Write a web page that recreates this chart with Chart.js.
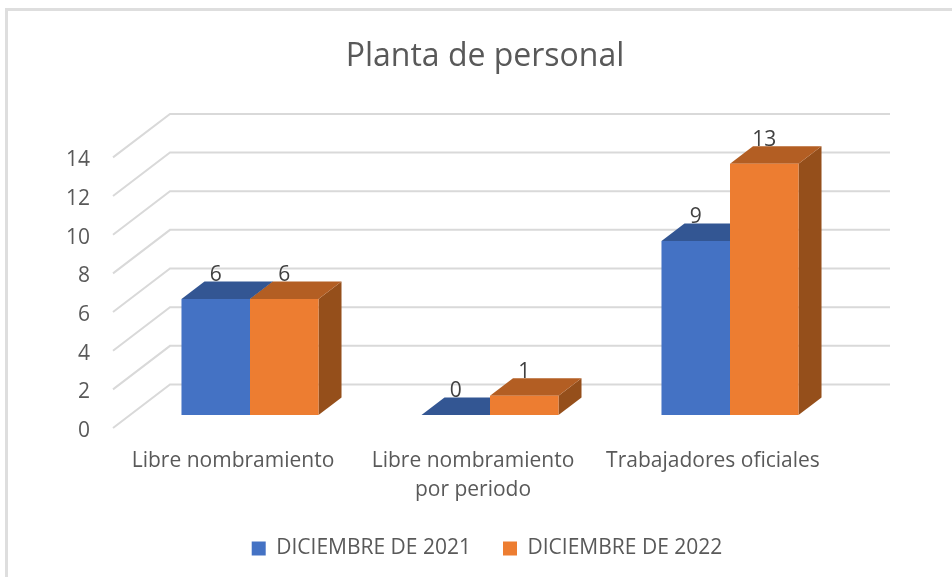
<!DOCTYPE html>
<html>
<head>
<meta charset="utf-8">
<title>Planta de personal</title>
<script src="https://cdn.jsdelivr.net/npm/chart.js@4"></script>
<style>
  html, body { margin: 0; height: 100%; overflow: hidden; background: #fff; }
  #box { position: absolute; left: 5px; top: 8px; width: 1000px; height: 600px; border-left: 3px solid #dedede; border-top: 3px solid #dedede; }
  #plot { position: absolute; left: 0; top: 0; }
</style>
</head>
<body>
<div id="box"></div>
<canvas id="plot" width="970" height="590"></canvas>
<script>
// Chart data
const categories = [["Libre nombramiento"], ["Libre nombramiento", "por periodo"], ["Trabajadores oficiales"]];
const seriesNames = ["DICIEMBRE DE 2021", "DICIEMBRE DE 2022"];
const values2021 = [6, 0, 9];
const values2022 = [6, 1, 13];

// Colours of the three faces of each bar
const frontColors = ["#4472C4", "#ED7D31"];
const topColors = ["#335693", "#B35E23"];
const sideColors = ["#2A4675", "#954F1B"];

const textColor = "#595959";
const gridColor = "#d9d9d9";
const fontName = "'Open Sans', sans-serif";

// Fake 3D depth: back wall offset, bar offset from the front plane, bar depth
const wall = { dx: 57, dy: -43.5 };
const barShift = { dx: 17, dy: -13 };
const barDepth = { dx: 23, dy: -17.5 };

const fake3d = {
  id: "fake3d",
  afterLayout(chart) {
    // legend sits a little right of the title in the original
    chart.legend.left += 2;
    chart.legend.right += 2;
  },
  beforeDraw(chart) {
    // y tick labels sit a bit low next to their lines
    chart.scales.y.getLabelItems().forEach(item => {
      item.options.translation[1] += 3;
    });
  },
  beforeDatasetsDraw(chart) {
    const { ctx, scales, chartArea } = chart;
    const yScale = scales.y;

    // Walls: a diagonal plus a line along the back for every tick
    ctx.save();
    ctx.strokeStyle = gridColor;
    ctx.lineWidth = 2;
    yScale.ticks.forEach(t => {
      const y = yScale.getPixelForValue(t.value);
      ctx.beginPath();
      ctx.moveTo(chartArea.left, y);
      ctx.lineTo(chartArea.left + wall.dx, y + wall.dy);
      ctx.lineTo(chartArea.right + wall.dx, y + wall.dy);
      ctx.stroke();
    });

    // Top and side of the bars, the fronts are drawn by Chart.js afterwards
    ctx.translate(barShift.dx, barShift.dy);
    [0, 1].forEach(d => {
      chart.getDatasetMeta(d).data.forEach(bar => {
        const left = bar.x - bar.width / 2;
        const right = bar.x + bar.width / 2;
        ctx.fillStyle = sideColors[d];
        ctx.beginPath();
        ctx.moveTo(right, bar.y);
        ctx.lineTo(right + barDepth.dx, bar.y + barDepth.dy);
        ctx.lineTo(right + barDepth.dx, bar.base + barDepth.dy);
        ctx.lineTo(right, bar.base);
        ctx.closePath();
        ctx.fill();
        ctx.fillStyle = topColors[d];
        ctx.beginPath();
        ctx.moveTo(left, bar.y);
        ctx.lineTo(left + barDepth.dx, bar.y + barDepth.dy);
        ctx.lineTo(right + barDepth.dx, bar.y + barDepth.dy);
        ctx.lineTo(right, bar.y);
        ctx.closePath();
        ctx.fill();
      });
    });
    ctx.restore();
  },
  beforeDatasetDraw(chart) {
    chart.ctx.save();
    chart.ctx.translate(barShift.dx, barShift.dy);
  },
  afterDatasetDraw(chart) {
    chart.ctx.restore();
  },
  afterDatasetsDraw(chart) {
    // Value labels above the bars
    const { ctx } = chart;
    ctx.save();
    ctx.fillStyle = "#404040";
    ctx.font = "21px " + fontName;
    ctx.textAlign = "center";
    ctx.textBaseline = "middle";
    chart.data.datasets.forEach((ds, d) => {
      chart.getDatasetMeta(d).data.forEach((bar, i) => {
        ctx.fillText(ds.data[i], bar.x + barShift.dx, bar.y + barShift.dy - 24);
      });
    });
    ctx.restore();
  }
};

new Chart(document.getElementById("plot"), {
  type: "bar",
  data: {
    labels: categories,
    datasets: [
      { label: seriesNames[0], data: values2021, backgroundColor: frontColors[0], clip: false },
      { label: seriesNames[1], data: values2022, backgroundColor: frontColors[1], clip: false }
    ]
  },
  options: {
    responsive: false,
    animation: false,
    layout: { padding: { left: 0, right: 0, top: 0, bottom: 21 } },
    datasets: { bar: { categoryPercentage: 0.571, barPercentage: 1 } },
    plugins: {
      title: {
        display: true,
        text: "Planta de personal",
        color: textColor,
        font: { family: fontName, size: 32, weight: "normal" },
        padding: { top: 38, bottom: 81 }
      },
      legend: {
        position: "bottom",
        labels: {
          boxWidth: 14,
          boxHeight: 14,
          padding: 32,
          color: textColor,
          font: { family: fontName, size: 21 }
        }
      },
      tooltip: { enabled: false }
    },
    scales: {
      x: {
        grid: { display: false },
        border: { display: false },
        ticks: { color: textColor, font: { family: fontName, size: 21, lineHeight: 1.4 }, padding: 10, maxRotation: 0, autoSkip: false },
        afterFit(scale) { scale.height = 78; }
      },
      y: {
        min: 0,
        max: 14,
        grid: { display: false },
        border: { display: false },
        ticks: { stepSize: 2, color: textColor, font: { family: fontName, size: 21 }, padding: 15 },
        afterFit(scale) { scale.width = 113; }
      },
      // empty axis that only keeps the space right of the plot
      rightGap: {
        position: "right",
        grid: { display: false },
        border: { display: false },
        ticks: { display: false },
        afterFit(scale) { scale.width = 137; }
      }
    }
  },
  plugins: [fake3d]
});
</script>
</body>
</html>
